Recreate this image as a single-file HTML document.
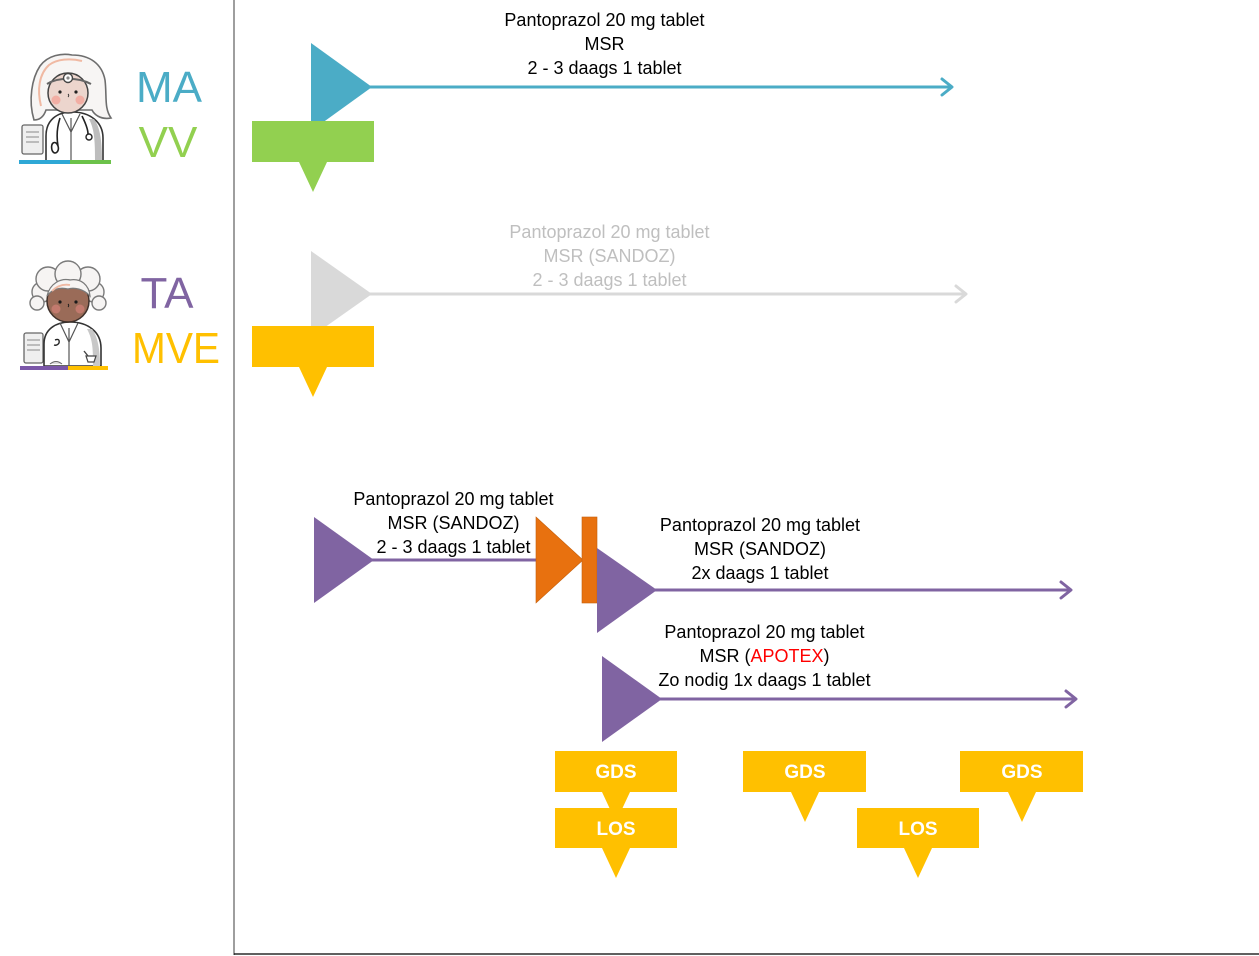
<!DOCTYPE html>
<html>
<head>
<meta charset="utf-8">
<style>
  html,body{margin:0;padding:0;background:#fff;}
  body{width:1259px;height:956px;overflow:hidden;}
  svg{display:block;}
  text{font-family:"Liberation Sans", sans-serif;}
</style>
</head>
<body>
<svg width="1259" height="956" viewBox="0 0 1259 956" xmlns="http://www.w3.org/2000/svg">
  <rect x="0" y="0" width="1259" height="956" fill="#fff"/>

  <!-- axes -->
  <line x1="234" y1="0" x2="234" y2="955" stroke="#7f7f7f" stroke-width="1.5"/>
  <line x1="234" y1="954" x2="1259" y2="954" stroke="#000" stroke-width="1.2"/>

  <!-- ===== Figure 1 (doctor) ===== -->
  <g>
    <!-- hair back -->
    <path d="M34,120 C28,100 32,78 40,66 C48,55 62,53 72,55 C90,55 102,64 105,80 C107,96 104,108 111,118 C100,120 94,114 92,110 L46,110 C44,116 40,120 34,120 Z" fill="#f7f5f4" stroke="#6e6e6e" stroke-width="1.6"/>
    <path d="M41,106 C37,90 39,74 49,65 C57,59 70,58 82,61" fill="none" stroke="#f0b9a3" stroke-width="2"/>
    <!-- monitor -->
    <rect x="22" y="125" width="21" height="29" rx="2" fill="#efefef" stroke="#666" stroke-width="1.3"/>
    <line x1="26" y1="132" x2="39" y2="132" stroke="#999" stroke-width="1.2"/>
    <line x1="26" y1="137" x2="39" y2="137" stroke="#999" stroke-width="1.2"/>
    <line x1="26" y1="142" x2="39" y2="142" stroke="#999" stroke-width="1.2"/>
    <!-- body -->
    <path d="M46,162 L46,136 C46,120 57,112 72,112 C90,112 103,122 103,138 L103,162 Z" fill="#fff" stroke="#333" stroke-width="1.6"/>
    <path d="M94,119 C100,127 102,140 102,162 L95,162 C95,145 95,130 89,119 Z" fill="#bdbdbd"/>
    <line x1="71" y1="118" x2="71" y2="162" stroke="#555" stroke-width="1.2"/>
    <path d="M62,114 L71,132 L80,114" fill="none" stroke="#555" stroke-width="1.2"/>
    <!-- stethoscope -->
    <path d="M60,118 C56,130 57,140 58,146 M52,150 C50,142 56,140 58,146 C60,152 54,156 52,150" fill="none" stroke="#222" stroke-width="1.6"/>
    <path d="M82,116 C86,124 88,130 88,134" fill="none" stroke="#222" stroke-width="1.6"/>
    <circle cx="89" cy="137" r="3" fill="#fff" stroke="#222" stroke-width="1.4"/>
    <!-- face -->
    <circle cx="68" cy="93" r="20" fill="#ecd5cd" stroke="#444" stroke-width="1.5"/>
    <path d="M47,84 C58,77 78,77 91,84" fill="none" stroke="#666" stroke-width="2"/>
    <circle cx="68" cy="78" r="4.5" fill="#fff" stroke="#444" stroke-width="1.4"/>
    <circle cx="68" cy="78" r="1.6" fill="#888"/>
    <circle cx="60" cy="92" r="1.6" fill="#222"/>
    <circle cx="76" cy="92" r="1.6" fill="#222"/>
    <path d="M68,94 q1.5,1.5 0,3" fill="none" stroke="#333" stroke-width="0.9"/>
    <circle cx="56" cy="100" r="4.5" fill="#f2aea4"/>
    <circle cx="80" cy="100" r="4.5" fill="#f2aea4"/>
    <!-- bar -->
    <rect x="19" y="160" width="51" height="4" fill="#2ea8d6"/>
    <rect x="70" y="160" width="41" height="4" fill="#6cc24a"/>
  </g>

  <!-- ===== Figure 2 (pharmacist) ===== -->
  <g>
    <!-- hair -->
    <g fill="#f6f4f3" stroke="#7a7a7a" stroke-width="1.4">
      <circle cx="42" cy="292" r="10"/>
      <circle cx="94" cy="292" r="10"/>
      <circle cx="48" cy="279" r="12"/>
      <circle cx="88" cy="279" r="12"/>
      <circle cx="68" cy="274" r="13"/>
      <circle cx="37" cy="303" r="7"/>
      <circle cx="99" cy="303" r="7"/>
    </g>
    <!-- monitor -->
    <rect x="24" y="333" width="19" height="30" rx="2" fill="#efefef" stroke="#666" stroke-width="1.3"/>
    <line x1="27" y1="340" x2="40" y2="340" stroke="#999" stroke-width="1.2"/>
    <line x1="27" y1="345" x2="40" y2="345" stroke="#999" stroke-width="1.2"/>
    <line x1="27" y1="350" x2="40" y2="350" stroke="#999" stroke-width="1.2"/>
    <!-- body -->
    <path d="M44,366 L44,344 C44,330 55,322 70,322 C88,322 101,332 101,348 L101,366 Z" fill="#fff" stroke="#333" stroke-width="1.6"/>
    <path d="M92,329 C98,337 100,350 100,366 L93,366 C93,350 93,340 87,329 Z" fill="#c8c8c8"/>
    <line x1="69" y1="328" x2="69" y2="366" stroke="#555" stroke-width="1.2"/>
    <path d="M60,323 L69,342 L78,323" fill="none" stroke="#555" stroke-width="1.2"/>
    <path d="M55,340 q5,-2 4,3 q-2,3 -5,2" fill="none" stroke="#222" stroke-width="1.4"/>
    <path d="M86,356 h10 l-2,6 h-6 z" fill="#fff" stroke="#444" stroke-width="1.2"/>
    <line x1="88" y1="356" x2="84" y2="351" stroke="#444" stroke-width="1.4"/>
    <path d="M50,364 q6,-5 12,0" fill="#ddd" stroke="#666" stroke-width="1"/>
    <!-- face -->
    <circle cx="68" cy="301" r="21" fill="#9a6b58" stroke="#3f312b" stroke-width="1.5"/>
    <path d="M47,296 C50,283 61,278 70,280 C81,278 89,285 90,296 C84,289 74,287 68,289 C60,287 52,289 47,296 Z" fill="#f6f4f3" stroke="#7a7a7a" stroke-width="1.2"/>
    <path d="M52,291 C58,285 64,284 70,285" fill="none" stroke="#f0b9a3" stroke-width="1.8"/>
    <circle cx="60" cy="302" r="1.6" fill="#1a1a1a"/>
    <circle cx="76" cy="302" r="1.6" fill="#1a1a1a"/>
    <path d="M68,304 q1.5,1.5 0,3" fill="none" stroke="#1a1a1a" stroke-width="0.9"/>
    <circle cx="56" cy="309" r="4.5" fill="#c27a6e"/>
    <circle cx="80" cy="309" r="4.5" fill="#c27a6e"/>
    <!-- bar -->
    <rect x="20" y="366" width="48" height="4" fill="#7b57a8"/>
    <rect x="68" y="366" width="40" height="4" fill="#ffc000"/>
  </g>

  <!-- labels -->
  <text x="169" y="102" font-size="44" fill="#4bacc6" text-anchor="middle">MA</text>
  <text x="168" y="157" font-size="44" fill="#92d050" text-anchor="middle">VV</text>
  <text x="167" y="308" font-size="44" fill="#8064a2" text-anchor="middle">TA</text>
  <text x="176" y="363" font-size="44" fill="#ffc000" text-anchor="middle" textLength="88" lengthAdjust="spacingAndGlyphs">MVE</text>

  <!-- ===== Row 1: blue ===== -->
  <polygon points="311,43 372,87 311,131" fill="#4bacc6"/>
  <line x1="370" y1="87" x2="951" y2="87" stroke="#4bacc6" stroke-width="3"/>
  <polyline points="942,79 952,87 942,95" fill="none" stroke="#4bacc6" stroke-width="3" stroke-linecap="round" stroke-linejoin="round"/>
  <path d="M252,121 H374 V162 H327 L313,192 L299,162 H252 Z" fill="#92d050"/>
  <g font-size="18" fill="#000" text-anchor="middle">
    <text x="604.5" y="26">Pantoprazol 20 mg tablet</text>
    <text x="604.5" y="50">MSR</text>
    <text x="604.5" y="74">2 - 3 daags 1 tablet</text>
  </g>

  <!-- ===== Row 2: gray ===== -->
  <polygon points="311,251 372,294 311,337" fill="#d9d9d9"/>
  <line x1="370" y1="294" x2="965" y2="294" stroke="#d9d9d9" stroke-width="3"/>
  <polyline points="956,286 966,294 956,302" fill="none" stroke="#d9d9d9" stroke-width="3" stroke-linecap="round" stroke-linejoin="round"/>
  <path d="M252,326 H374 V367 H327 L313,397 L299,367 H252 Z" fill="#ffc000"/>
  <g font-size="18" fill="#bfbfbf" text-anchor="middle">
    <text x="609.5" y="238">Pantoprazol 20 mg tablet</text>
    <text x="609.5" y="262">MSR (SANDOZ)</text>
    <text x="609.5" y="286">2 - 3 daags 1 tablet</text>
  </g>

  <!-- ===== Row 3: purple ===== -->
  <polygon points="314,517 374,560 314,603" fill="#8064a2"/>
  <line x1="372" y1="560" x2="537" y2="560" stroke="#8064a2" stroke-width="3"/>
  <polygon points="536,517 583,560 536,603" fill="#e8710f" stroke="#c45f0c" stroke-width="0.6"/>
  <rect x="582" y="517" width="15" height="86" fill="#e8710f" stroke="#c45f0c" stroke-width="0.6"/>
  <g font-size="18" fill="#000" text-anchor="middle">
    <text x="453.5" y="505">Pantoprazol 20 mg tablet</text>
    <text x="453.5" y="529">MSR (SANDOZ)</text>
    <text x="453.5" y="553">2 - 3 daags 1 tablet</text>
  </g>

  <polygon points="597,548 657,590 597,633" fill="#8064a2"/>
  <line x1="655" y1="590" x2="1070" y2="590" stroke="#8064a2" stroke-width="3"/>
  <polyline points="1061,582 1071,590 1061,598" fill="none" stroke="#8064a2" stroke-width="3" stroke-linecap="round" stroke-linejoin="round"/>
  <g font-size="18" fill="#000" text-anchor="middle">
    <text x="760" y="531">Pantoprazol 20 mg tablet</text>
    <text x="760" y="555">MSR (SANDOZ)</text>
    <text x="760" y="579">2x daags 1 tablet</text>
  </g>

  <polygon points="602,656 662,699 602,742" fill="#8064a2"/>
  <line x1="660" y1="699" x2="1075" y2="699" stroke="#8064a2" stroke-width="3"/>
  <polyline points="1066,691 1076,699 1066,707" fill="none" stroke="#8064a2" stroke-width="3" stroke-linecap="round" stroke-linejoin="round"/>
  <g font-size="18" fill="#000" text-anchor="middle">
    <text x="764.5" y="638">Pantoprazol 20 mg tablet</text>
    <text x="764.5" y="662">MSR (<tspan fill="#ff0000">APOTEX</tspan>)</text>
    <text x="764.5" y="686">Zo nodig 1x daags 1 tablet</text>
  </g>

  <!-- ===== GDS / LOS callouts ===== -->
  <g fill="#ffc000">
    <path d="M555,751 H677 V792 H630 L616,822 L602,792 H555 Z"/>
    <path d="M743,751 H866 V792 H819 L805,822 L791,792 H743 Z"/>
    <path d="M960,751 H1083 V792 H1036 L1022,822 L1008,792 H960 Z"/>
    <path d="M555,808 H677 V848 H630 L616,878 L602,848 H555 Z"/>
    <path d="M857,808 H979 V848 H932 L918,878 L904,848 H857 Z"/>
  </g>
  <g font-size="19" font-weight="bold" fill="#fff" text-anchor="middle">
    <text x="616" y="778">GDS</text>
    <text x="805" y="778">GDS</text>
    <text x="1022" y="778">GDS</text>
    <text x="616" y="835">LOS</text>
    <text x="918" y="835">LOS</text>
  </g>
</svg>
</body>
</html>
